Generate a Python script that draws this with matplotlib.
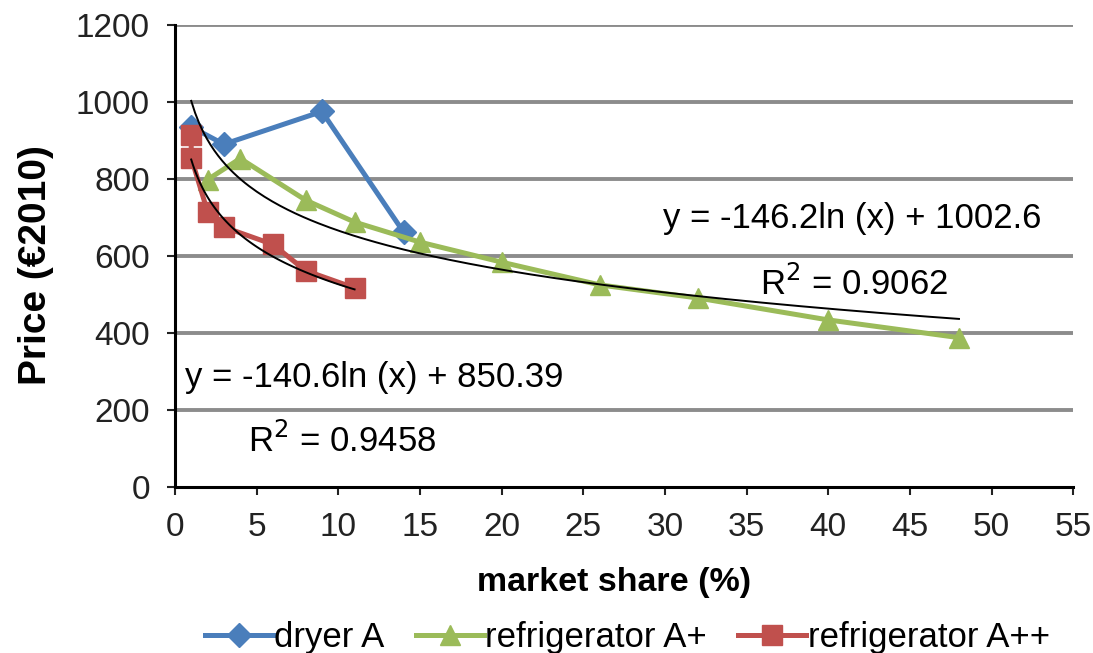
import matplotlib.pyplot as plt
import numpy as np

plt.rcParams['font.family'] = ['Liberation Sans', 'DejaVu Sans']

# market share (%) vs price per product class
dryer_x = [1, 3, 9, 14]
dryer_y = [935, 890, 975, 662]

fridge_p_x = [2, 4, 8, 11, 15, 20, 26, 32, 40, 48]
fridge_p_y = [798, 853, 745, 688, 636, 584, 525, 491, 434, 388]

fridge_pp_x = [1, 1, 2, 3, 6, 8, 11]
fridge_pp_y = [915, 855, 715, 675, 630, 562, 517]

# logarithmic trendlines: y = a*ln(x) + b
fit_all = (-146.2, 1002.6, 0.9062)
fit_pp = (-140.6, 850.39, 0.9458)

x_ticks = list(range(0, 56, 5))
y_ticks = list(range(0, 1201, 200))

blue = '#4a7ebb'
green = '#9bbb59'
red = '#c0504d'

fig = plt.figure(figsize=(10.93, 6.53), dpi=100)
ax = fig.add_axes([0.160, 0.254, 0.822, 0.708])

ax.set_xlim(0, 55)
ax.set_ylim(0, 1200)
ax.set_xticks(x_ticks)
ax.set_yticks(y_ticks)

for y in y_ticks[1:]:
    ax.axhline(y, color='#8c8c8c', lw=2.8, zorder=0)

ax.plot(dryer_x, dryer_y, color=blue, lw=3.6, marker='D', ms=12,
        label='dryer A', zorder=3)
ax.plot(fridge_p_x, fridge_p_y, color=green, lw=3.6, marker='^', ms=14,
        label='refrigerator A+', zorder=3)
ax.plot(fridge_pp_x, fridge_pp_y, color=red, lw=3.6, marker='s', ms=15,
        label='refrigerator A++', zorder=3)

# trendlines
xs = np.linspace(1, 48, 200)
ax.plot(xs, fit_all[0] * np.log(xs) + fit_all[1], color='black', lw=1.4, zorder=4)
xs2 = np.linspace(1, 11, 100)
ax.plot(xs2, fit_pp[0] * np.log(xs2) + fit_pp[1], color='black', lw=1.4, zorder=4)

eq_size = 25
ax.text(0.543, 0.582, 'y = -146.2ln (x) + 1002.6', transform=ax.transAxes,
        fontsize=eq_size, va='center', ha='left')
ax.text(0.651, 0.440, r'R$^2$ = 0.9062', transform=ax.transAxes,
        fontsize=eq_size, va='center', ha='left')
ax.text(0.011, 0.238, 'y = -140.6ln (x) + 850.39', transform=ax.transAxes,
        fontsize=eq_size, va='center', ha='left')
ax.text(0.081, 0.100, r'R$^2$ = 0.9458', transform=ax.transAxes,
        fontsize=eq_size, va='center', ha='left')

for s in ['top', 'right']:
    ax.spines[s].set_visible(False)
for s in ['left', 'bottom']:
    ax.spines[s].set_linewidth(2.2)
    ax.spines[s].set_zorder(5)

ax.tick_params(axis='both', labelsize=24, width=1.5, length=6, direction='out',
               colors='#222222')
ax.tick_params(axis='x', pad=12)
ax.tick_params(axis='y', pad=12)
ax.set_xlabel('market share (%)', fontsize=24.5, fontweight='bold', labelpad=17)
ax.set_ylabel('Price (€2010)', fontsize=28, fontweight='bold', labelpad=16)
ax.xaxis.label.set_x(0.489)
ax.yaxis.label.set_y(0.48)

fig.legend(loc='lower center', bbox_to_anchor=(0.574, -0.05), ncol=3,
           frameon=False, fontsize=25, handlelength=1.95, columnspacing=0.9,
           handletextpad=0.05, markerscale=1.0)

fig.savefig('out.png', dpi=100, facecolor='white')
